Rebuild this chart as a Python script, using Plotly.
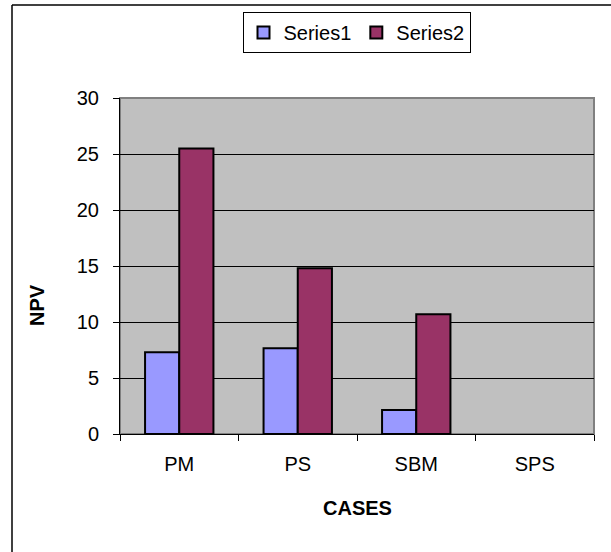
import plotly.graph_objects as go

categories = ["PM", "PS", "SBM", "SPS"]
series1 = [7.3, 7.65, 2.15, 0]
series2 = [25.5, 14.8, 10.7, 0]
y_ticks = [0, 5, 10, 15, 20, 25, 30]

FONT = "Liberation Sans, Arial, sans-serif"
FS = 20

def edge_widths(vals):
    return [2 if v > 0 else 0 for v in vals]

fig = go.Figure()
fig.add_trace(go.Bar(name="Series1", x=categories, y=series1,
                     marker=dict(color="#9999FF", line=dict(color="black", width=edge_widths(series1)))))
fig.add_trace(go.Bar(name="Series2", x=categories, y=series2,
                     marker=dict(color="#993366", line=dict(color="black", width=edge_widths(series2)))))

W, H = 611, 552
L, R, T, B = 120, 17, 98, 118
pw, ph = W - L - R, H - T - B

def px_x(p):
    return (p - L) / pw

def px_y(p):
    return (H - B - p) / ph

fig.update_layout(
    width=W, height=H,
    margin=dict(l=L, r=R, t=T, b=B, pad=0),
    paper_bgcolor="white",
    plot_bgcolor="#C0C0C0",
    barmode="group",
    bargap=0.423,
    bargroupgap=0,
    font=dict(family=FONT, size=FS, color="black"),
    showlegend=True,
    legend=dict(orientation="h", xanchor="center", x=px_x(356.5), yanchor="top", y=px_y(12),
                bordercolor="black", borderwidth=1, bgcolor="white",
                font=dict(size=FS), itemwidth=30, tracegroupgap=0),
    xaxis=dict(type="category", range=[-0.5, 3.5], tickson="boundaries",
               ticks="outside", ticklen=6, tickcolor="black", tickwidth=1,
               showline=True, linecolor="black", linewidth=1,
               showgrid=False, ticklabelstandoff=12,
               tickfont=dict(size=FS)),
    yaxis=dict(range=[0, 30], tickvals=y_ticks, ticks="outside", ticklen=6,
               tickcolor="black", tickwidth=1, showline=True, linecolor="black", linewidth=1,
               showgrid=True, gridcolor="black", gridwidth=1, zeroline=False,
               ticklabelstandoff=10, tickfont=dict(size=FS)),
    shapes=[
        dict(type="rect", xref="paper", yref="paper", x0=0, x1=1, y0=0, y1=1,
             line=dict(color="#808080", width=2), layer="below"),
        dict(type="line", xref="paper", yref="paper", x0=px_x(12), x1=px_x(12),
             y0=px_y(5), y1=px_y(560), line=dict(color="black", width=1.5)),
        dict(type="line", xref="paper", yref="paper", x0=px_x(12), x1=px_x(620),
             y0=px_y(5), y1=px_y(5), line=dict(color="black", width=1.5)),
    ],
    annotations=[
        dict(text="<b>NPV</b>", xref="paper", yref="paper", x=px_x(37), y=px_y(305),
             textangle=-90, showarrow=False, font=dict(size=FS),
             xanchor="center", yanchor="middle"),
        dict(text="<b>CASES</b>", xref="paper", yref="paper", x=px_x(357), y=px_y(508),
             showarrow=False, font=dict(size=FS), xanchor="center", yanchor="middle"),
    ],
)

fig.write_html("out.html", config={"displayModeBar": False},
               post_script="document.body.style.margin='0';document.body.style.overflow='hidden';")
